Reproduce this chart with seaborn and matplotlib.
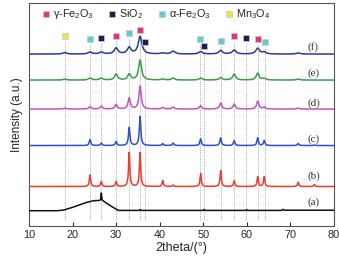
import numpy as np
import pandas as pd
import seaborn as sns
import matplotlib.pyplot as plt

# peak positions (2theta) shared by the crystalline patterns
peak_pos = [18.2, 24.0, 26.6, 30.0, 33.0, 35.5, 40.7, 43.1, 49.4, 54.0, 57.1, 62.5, 64.0, 71.8, 75.5]

# peak heights above baseline
h_b = [0, 11.7, 5, 5, 34, 34, 6, 1.5, 13, 16, 5.7, 10, 10, 4.3, 2]
h_c = [0, 6, 2.5, 4, 18, 29, 2, 2.5, 6.7, 7.7, 5, 7.7, 5, 2, 0.5]
h_d = [1, 2.5, 3, 4.5, 11, 23, 1.5, 2, 3.3, 6, 5, 8, 2, 1, 0]
h_e = [1, 2, 2, 6, 6, 20, 1, 2, 2, 2.5, 6, 7, 1.5, 1, 0]
h_f = [1.5, 2, 2, 6, 6.5, 17.6, 1, 3, 2.5, 3.5, 4, 5.7, 2, 1, 0]

# baselines and peak widths (FWHM, degrees)
base = {'b': 39.5, 'c': 80.5, 'd': 117, 'e': 146, 'f': 172}
fwhm = {'b': 0.35, 'c': 0.4, 'd': 0.6, 'e': 0.8, 'f': 1.0}
heights = {'b': h_b, 'c': h_c, 'd': h_d, 'e': h_e, 'f': h_f}

# amorphous sample (a)
a_theta = [10, 16.5, 18, 20, 23, 24.8, 26.2, 26.45, 26.6, 26.8, 27.3, 28.8, 30.5, 35.3, 35.5, 35.7, 50.0, 50.2, 50.4, 59.8, 60.0, 60.2, 68.0, 68.3, 68.6, 80]
a_int = [15.3, 15.3, 16.0, 18.7, 23.3, 25.3, 25.6, 26.5, 33.0, 26.0, 24.3, 20.0, 15.6, 15.6, 16.5, 15.6, 15.6, 16.6, 15.6, 15.6, 16.4, 15.6, 15.6, 16.6, 15.8, 15.8]

# phase markers above the patterns
mk_pos = [18.2, 24.0, 26.6, 30.0, 33.0, 35.4, 36.6, 49.3, 50.2, 54.0, 57.0, 59.9, 62.5, 64.1]
mk_y = [190, 187, 187.7, 190.3, 192.7, 196, 184.3, 186.7, 180, 185, 190.3, 188.3, 186.7, 184.3]
mk_phase = ['Mn', 'a', 'S', 'g', 'a', 'g', 'S', 'a', 'S', 'a', 'g', 'S', 'g', 'a']

labels = ['(f)', '(e)', '(d)', '(c)', '(b)', '(a)']
label_y = [179, 153, 123, 87, 50, 24]

colors = {'a': '#111111', 'b': '#EE3B2E', 'c': '#2F4FCB', 'd': '#C253C0', 'e': '#3E9A4A', 'f': '#2E3A8C'}
phase_col = {'g': '#E83473', 'S': '#1B1F4E', 'a': '#62CBD0', 'Mn': '#F2E24A'}
phase_name = {'g': r'$\gamma$-Fe$_2$O$_3$', 'S': 'SiO$_2$', 'a': r'$\alpha$-Fe$_2$O$_3$', 'Mn': 'Mn$_3$O$_4$'}

# build long table
theta = np.arange(10, 80.001, 0.02)
rows = []
for k in ['b', 'c', 'd', 'e', 'f']:
    y = np.full_like(theta, base[k])
    g = fwhm[k] / 2
    for p, h in zip(peak_pos, heights[k]):
        y += h / (1 + ((theta - p) / g) ** 2)
    rows.append(pd.DataFrame({'theta': theta, 'I': y, 's': k}))
rows.append(pd.DataFrame({'theta': a_theta, 'I': a_int, 's': 'a'}))
df = pd.concat(rows, ignore_index=True)

sns.set_style('ticks')
plt.rcParams['font.family'] = ['Liberation Sans', 'DejaVu Sans']
plt.rcParams['mathtext.default'] = 'regular'

fig = plt.figure(figsize=(3.39, 2.58), dpi=100)
ax = fig.add_axes([0.0855, 0.124, 0.8995, 0.864])

# dotted guide lines
for p, yy in zip(mk_pos, mk_y):
    ax.plot([p, p], [6, yy - 5], color='#999999', lw=0.6, ls=(0, (1, 1.2)), zorder=1)

sns.lineplot(data=df, x='theta', y='I', hue='s', palette=colors, estimator=None,
             sort=False, lw=1.1, legend=False, ax=ax, zorder=3)

for ph in ['g', 'S', 'a', 'Mn']:
    xs = [p for p, q in zip(mk_pos, mk_phase) if q == ph]
    ys = [v for v, q in zip(mk_y, mk_phase) if q == ph]
    ax.scatter(xs, ys, marker='s', s=22, color=phase_col[ph], edgecolor='#cccccc',
               linewidth=0.5, label=phase_name[ph], zorder=4)

for t, yy in zip(labels, label_y):
    ax.text(74, yy, t, fontsize=8, family='Liberation Serif', color='#333333', va='center')

ax.legend(ncol=4, loc='center left', bbox_to_anchor=(0.045, 0.952), frameon=False,
          fontsize=7.8, handlelength=0.6, handletextpad=0.35, columnspacing=1.4,
          borderaxespad=0, borderpad=0, markerscale=1.0)

ax.set_xlim(10, 80)
ax.set_ylim(0, 223)
ax.set_xticks(range(10, 81, 10))
ax.set_yticks([])
ax.tick_params(axis='x', direction='in', length=3, labelsize=7.8, pad=3)
ax.set_xlabel('2theta/(°)', fontsize=9, labelpad=1)
ax.set_ylabel('Intensity (a.u.)', fontsize=8.5, labelpad=4)
for sp in ax.spines.values():
    sp.set_color('#555555')
    sp.set_linewidth(0.8)

fig.savefig('out.png', dpi=100)
